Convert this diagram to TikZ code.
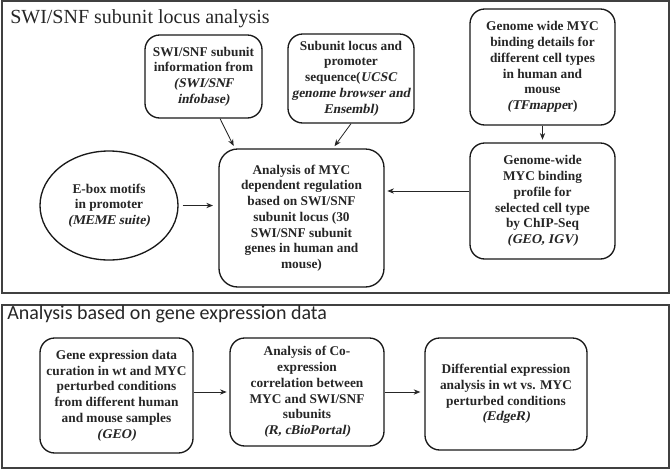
\documentclass[tikz,border=0pt]{standalone}
\usepackage{fontspec}
\setmainfont{Liberation Serif}[BoldItalicFont={Liberation Serif Bold}, BoldItalicFeatures={FakeSlant=0.2}]
\newfontfamily\panelfont{Carlito}
\usepackage{tikz}
\usetikzlibrary{
    arrows.meta,
    positioning,
    shapes.geometric
}

\begin{document}
\begin{tikzpicture}[x=0.75pt, y=-0.75pt,
    font=\fontsize{10}{11.8}\selectfont\bfseries,
    box/.style={
        rectangle,
        rounded corners=11pt,
        draw=black!90,
        line width=1pt,
        align=center,
        text=black!85,
        inner sep=1pt
    },
    oval/.style={
        ellipse,
        draw=black!90,
        line width=1pt,
        align=center,
        text=black!85,
        inner sep=0pt
    },
    frame/.style={draw=black!75, line width=1.2pt},
    paneltitle/.style={anchor=base west, inner sep=0pt, text=black!85},
    arrow/.style={-{Stealth[length=5pt,width=4pt]}, line width=0.6pt, black!85, shorten >=2pt}
]
\useasboundingbox (0,0) rectangle (671,469);

% ===== PANEL 1: SWI/SNF subunit locus analysis =====
\draw[frame] (2,1) rectangle (669,293);
\node[paneltitle, font=\fontsize{15}{18}\selectfont\mdseries] (title1) at (10,23) {SWI/SNF subunit locus analysis};

\node[box, minimum width=87.75pt, minimum height=62.25pt] (info) at (203.5,76.5)
    {SWI/SNF subunit\\information from\\\textit{(SWI/SNF}\\\textit{infobase)}};
\node[box, minimum width=94.5pt, minimum height=66.75pt] (locus) at (351,78.5)
    {Subunit locus and\\promoter\\sequence(\textit{UCSC}\\\textit{genome browser and}\\\textit{Ensembl)}};
\node[box, minimum width=108.75pt, minimum height=87pt] (tfmap) at (542.5,67)
    {Genome wide MYC\\binding details for\\different cell types\\in human and\\mouse\\\textit{(TFmappe}r)};
\node[box, minimum width=108.75pt, minimum height=87pt] (chip) at (542.5,201)
    {Genome-wide\\MYC binding\\profile for\\selected cell type\\by ChIP-Seq\\\textit{(GEO, IGV)}};
\node[box, rounded corners=14pt, minimum width=123.75pt, minimum height=103.5pt] (central) at (301.5,218)
    {Analysis of MYC\\dependent regulation\\based on SWI/SNF\\subunit locus (30\\SWI/SNF subunit\\genes in human and\\mouse)};
\node[oval, minimum width=103.5pt, minimum height=81.75pt] (ebox) at (109,205.5)
    {E-box motifs\\in promoter\\\textit{(MEME suite)}};

\coordinate (chipout) at ([yshift=7.5pt]chip.west);

\draw[arrow] ([xshift=12.4pt]info.south) -- ([xshift=-50pt]central.north);
\draw[arrow] (locus.south) -- ([xshift=23.6pt]central.north);
\draw[arrow] (tfmap) -- (chip);
\draw[arrow] (chipout) -- (chipout -| central.east);
\draw[arrow, shorten <=3pt, shorten >=4pt] (ebox.east) -- (ebox.east -| central.west);

% ===== PANEL 2: gene expression data =====
\draw[frame] (2,305) rectangle (669,468);
\node[paneltitle, font=\panelfont\fontsize{15}{18}\selectfont\mdseries] (title2) at (7,319) {Analysis based on gene expression data};

\node[box, minimum width=114.75pt, minimum height=86.25pt] (geneexp) at (116.5,395.5)
    {Gene expression data\\curation in wt and MYC\\perturbed conditions\\from different human\\and mouse samples\\\textit{(GEO)}};
\node[box, minimum width=115.5pt, minimum height=81pt] (coexp) at (307,392)
    {Analysis of Co-\\expression\\correlation between\\MYC and SWI/SNF\\subunits\\\textit{(R, cBioPortal)}};
\node[box, minimum width=121.5pt, minimum height=84pt] (diffexp) at (506,394)
    {Differential expression\\analysis in wt vs. MYC\\perturbed conditions\\\textit{(EdgeR)}};

\draw[arrow] (geneexp.east |- coexp.west) -- (coexp.west);
\draw[arrow, shorten >=3pt] (coexp.east) -- (coexp.east -| diffexp.west);

\end{tikzpicture}
\end{document}
